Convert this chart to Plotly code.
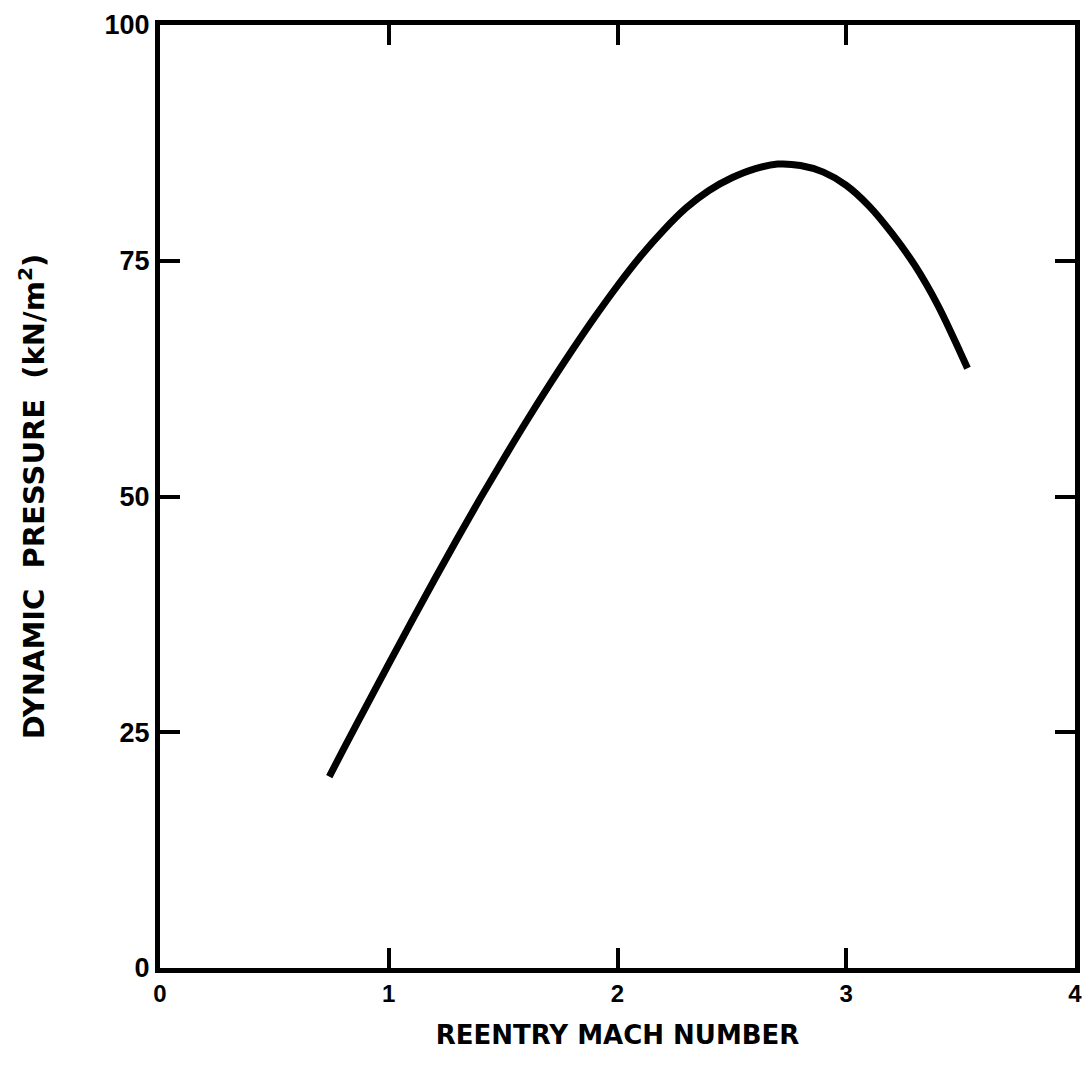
import plotly.graph_objects as go

mach = [0.74, 0.8, 0.9, 1.0, 1.1, 1.2, 1.3, 1.4, 1.5, 1.6, 1.7, 1.8, 1.9, 2.0, 2.1,
        2.2, 2.3, 2.4, 2.5, 2.6, 2.7, 2.8, 2.9, 3.0, 3.1, 3.2, 3.3, 3.4, 3.5, 3.53]
pressure = [20.3, 23.1, 27.7, 32.25, 36.75, 41.2, 45.55, 49.8, 53.9, 57.9, 61.75, 65.45,
            69.0, 72.35, 75.45, 78.2, 80.6, 82.45, 83.8, 84.75, 85.25, 85.1, 84.4, 83.0,
            80.8, 77.9, 74.5, 70.3, 65.2, 63.6]

x_ticks = [0, 1, 2, 3, 4]
y_ticks = [0, 25, 50, 75, 100]

fig = go.Figure()
fig.add_trace(go.Scatter(
    x=mach, y=pressure, mode="lines",
    line=dict(color="black", width=7, shape="spline", smoothing=1.0),
    showlegend=False, hoverinfo="skip",
))

tick_font = "Liberation Sans, Arial, sans-serif"
title_font = "DejaVu Sans, Verdana, sans-serif"
axis_common = dict(
    showline=True, linecolor="black", linewidth=5, mirror="allticks",
    ticks="inside", ticklen=20, tickwidth=4, tickcolor="black",
    showgrid=False, zeroline=False,
)

fig.update_layout(
    width=1092, height=1074,
    margin=dict(l=160, r=10, t=20, b=106),
    paper_bgcolor="white", plot_bgcolor="white",
    xaxis=dict(
        range=[0, 4], tickvals=x_ticks,
        ticktext=[f"<b>{v}</b>" for v in x_ticks],
        tickfont=dict(family=tick_font, size=24, color="black"),
        title=dict(text="<b>REENTRY MACH NUMBER</b>",
                   font=dict(family=title_font, size=26, color="black"), standoff=22),
        **axis_common,
    ),
    yaxis=dict(
        range=[0, 100], tickvals=y_ticks,
        ticktext=[f"<b>{v}</b>" for v in y_ticks],
        tickfont=dict(family=tick_font, size=27, color="black"),
        title=dict(text="<b>DYNAMIC  PRESSURE  (kN/m<sup>2</sup>)</b>",
                   font=dict(family=title_font, size=29, color="black"), standoff=53),
        **axis_common,
    ),
)

fig.write_html("out.html")
